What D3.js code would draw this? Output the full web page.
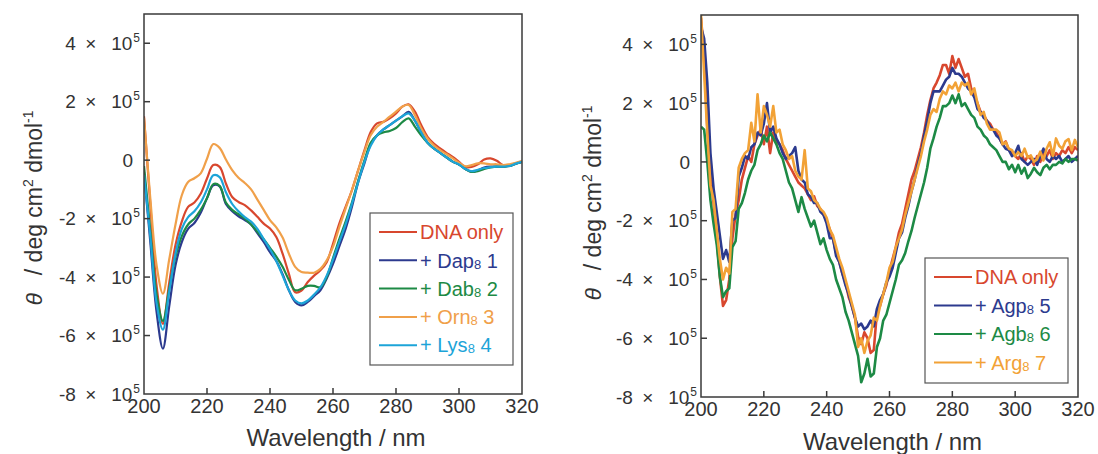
<!DOCTYPE html>
<html>
<head>
<meta charset="utf-8">
<script src="https://cdn.jsdelivr.net/npm/d3@7"></script>
<style>
  body { margin: 0; background: #fff; }
  svg { display: block; font-family: "Liberation Sans", Arial, sans-serif; }
</style>
</head>
<body>
<svg id="chart" width="1098" height="454"></svg>
<script>
// values are theta in units of 10^5 deg cm2 dmol-1

// left panel, 200-320 nm every 2 nm
const waveLeft = d3.range(200, 321, 2);
const leftDNA = [1.5, -1.5, -4.3, -5.6, -4.2, -2.9, -2.1, -1.6, -1.45, -1.15, -0.63, -0.17, -0.23, -0.8, -1.26, -1.43, -1.54, -1.72, -1.94, -2.17, -2.34, -2.63, -3.2, -3.89, -4.52, -4.46, -4.17, -3.95, -3.77, -3.49, -2.86, -2.17, -1.6, -1.03, -0.34, 0.34, 0.97, 1.26, 1.31, 1.43, 1.6, 1.83, 1.91, 1.66, 1.2, 0.8, 0.57, 0.4, 0.25, 0.11, -0.06, -0.23, -0.23, -0.14, 0.02, 0.06, -0.02, -0.17, -0.17, -0.11, -0.06];
const leftDap = [-0.4, -2.8, -5.2, -6.45, -5.0, -3.6, -2.8, -2.35, -2.15, -1.8, -1.3, -0.86, -0.9, -1.5, -1.75, -1.92, -2.05, -2.2, -2.5, -2.8, -3.15, -3.45, -3.9, -4.45, -4.85, -4.97, -4.85, -4.65, -4.45, -4.05, -3.55, -2.95, -2.35, -1.6, -0.75, -0.1, 0.55, 0.85, 1.05, 1.2, 1.35, 1.5, 1.65, 1.35, 0.95, 0.6, 0.4, 0.25, 0.1, -0.05, -0.15, -0.3, -0.4, -0.35, -0.25, -0.22, -0.22, -0.22, -0.2, -0.12, -0.06];
const leftDab = [-0.2, -2.4, -4.6, -5.5, -4.4, -3.3, -2.6, -2.2, -2.0, -1.7, -1.3, -0.82, -0.88, -1.45, -1.7, -1.85, -2.0, -2.2, -2.45, -2.7, -3.0, -3.3, -3.65, -4.1, -4.45, -4.4, -4.3, -4.3, -4.35, -4.0, -3.35, -2.7, -2.1, -1.45, -0.7, 0.0, 0.6, 0.85, 0.95, 1.0, 1.1, 1.3, 1.43, 1.15, 0.85, 0.6, 0.4, 0.25, 0.1, -0.05, -0.15, -0.3, -0.4, -0.38, -0.3, -0.25, -0.22, -0.22, -0.2, -0.12, -0.06];
const leftOrn = [1.45, -1.3, -3.6, -4.57, -3.4, -2.2, -1.2, -0.75, -0.62, -0.45, 0.05, 0.55, 0.42, 0.02, -0.34, -0.6, -0.78, -1.0, -1.35, -1.7, -2.05, -2.3, -2.65, -3.2, -3.65, -3.83, -3.85, -3.85, -3.72, -3.43, -2.97, -2.3, -1.66, -1.03, -0.34, 0.29, 0.86, 1.14, 1.31, 1.49, 1.66, 1.83, 1.89, 1.54, 1.09, 0.74, 0.51, 0.34, 0.21, 0.06, -0.09, -0.21, -0.17, -0.11, -0.11, -0.14, -0.14, -0.17, -0.14, -0.09, -0.02];
const leftLys = [-0.5, -2.6, -4.9, -5.8, -4.5, -3.2, -2.35, -1.95, -1.75, -1.45, -1.0, -0.52, -0.58, -1.1, -1.5, -1.75, -1.95, -2.1, -2.35, -2.7, -3.05, -3.45, -3.95, -4.45, -4.8, -4.9, -4.8, -4.6, -4.35, -3.95, -3.4, -2.8, -2.2, -1.5, -0.75, -0.05, 0.5, 0.85, 1.05, 1.2, 1.35, 1.5, 1.6, 1.35, 0.95, 0.6, 0.4, 0.25, 0.1, -0.05, -0.15, -0.3, -0.38, -0.33, -0.27, -0.24, -0.22, -0.22, -0.2, -0.12, -0.06];

// right panel, 200-320 nm every 1 nm
const waveRight = d3.range(200, 321, 1);
const rightDNA = [4.9, 3.6, 1.2, -0.4, -1.4, -2.6, -3.9, -4.9, -4.7, -4.0,
  -2.6, -1.8, -1.3, -0.6, -0.2, 0.2, 0.0, 0.6, 0.9, 1.1,
  0.6, 1.2, 0.3, 1.0, 0.7, 0.6, 0.4, 0.1, -0.1, -0.3,
  -0.5, -0.7, -0.8, -0.9, -1.1, -1.3, -1.17, -1.5, -1.6, -1.8,
  -2.0, -2.3, -2.6, -3.1, -3.4, -3.8, -4.1, -4.6, -4.9, -5.3,
  -5.95, -6.2, -5.8, -6.0, -6.5, -6.4, -5.1, -4.9, -4.5, -4.2,
  -3.7, -3.3, -2.9, -2.4, -2.1, -1.6, -1.1, -0.6, -0.3, 0.1,
  0.5, 1.0, 1.6, 2.1, 2.5, 2.7, 2.95, 3.3, 3.3, 3.0,
  3.6, 3.2, 3.5, 3.2, 2.9, 3.0, 2.5, 2.3, 2.0, 1.7,
  1.6, 1.4, 1.3, 1.1, 1.0, 0.8, 0.6, 0.7, 0.4, 0.3,
  0.2, 0.1, 0.3, 0.0, 0.2, 0.1, -0.1, 0.2, 0.0, 0.3,
  0.2, 0.4, 0.1, 0.3, 0.2, 0.4, 0.3, 0.5, 0.3, 0.5,
  0.4];
const rightAgp = [4.6, 4.2, 2.7, 0.3, -0.9, -1.7, -2.5, -3.3, -3.0, -3.4,
  -2.0, -1.9, -0.5, -0.2, 0.2, 0.1, 0.5, 0.6, 1.0, 0.9,
  1.3, 2.0, 1.0, 1.2, 0.8, 0.6, 0.3, 0.1, 0.2, 0.3,
  0.5, -0.3, -0.6, -0.7, -1.1, -1.2, -1.4, -1.4, -1.7, -1.8,
  -2.1, -2.6, -2.6, -3.2, -3.4, -3.8, -4.2, -4.5, -4.9, -5.3,
  -5.6, -5.5, -5.7, -5.6, -5.4, -5.6, -5.0, -4.7, -4.5, -4.1,
  -3.9, -3.6, -3.1, -2.6, -2.4, -1.9, -1.5, -1.0, -0.6, -0.1,
  0.3, 0.9, 1.4, 2.0, 2.4, 2.4, 2.4, 2.6, 2.8, 2.9,
  3.2, 3.0, 3.0, 2.9, 2.7, 2.5, 2.4, 2.2, 1.8, 1.7,
  1.5, 1.4, 1.2, 1.1, 0.9, 0.8, 0.6, 0.45, 0.4, 0.2,
  0.3, 0.55, 0.1, 0.0, -0.1, 0.0, 0.1, -0.1, 0.2, 0.45,
  0.1, 0.0, 0.2, 0.1, 0.2, 0.0, 0.1, 0.2, 0.0, 0.1,
  0.2];
const rightAgb = [1.2, 1.1, 0.0, -1.3, -2.1, -2.8, -3.9, -4.6, -4.4, -4.3,
  -2.9, -2.7, -1.6, -1.4, -1.05, -0.6, -0.3, -0.1, 0.4, 0.6,
  0.9, 0.7, 1.0, 0.8, 0.6, 0.3, 0.1, -0.3, -0.7, -0.9,
  -1.3, -1.7, -1.2, -1.6, -1.9, -2.2, -2.0, -2.4, -2.8, -2.6,
  -3.0, -3.3, -3.5, -4.0, -4.3, -4.6, -5.1, -5.4, -5.8, -6.2,
  -6.6, -7.5, -7.2, -6.7, -7.3, -7.2, -6.3, -6.0, -5.4, -5.2,
  -4.8, -4.4, -4.0, -3.5, -3.35, -3.1, -2.7, -2.35, -1.9, -1.5,
  -1.1, -0.7, -0.2, 0.45, 0.8, 1.2, 1.5, 1.9, 1.9, 2.0,
  2.26, 2.0, 2.3, 1.9, 2.0, 1.8, 1.6, 1.5, 1.2, 1.1,
  0.9, 0.8, 0.6, 0.5, 0.4, 0.2, 0.0, 0.0, -0.25, -0.1,
  -0.35, -0.1, -0.4, -0.2, -0.55, -0.4, -0.2, -0.35, -0.45, -0.2,
  -0.1, -0.25, -0.1, -0.1, 0.0, -0.05, 0.1, 0.0, 0.1, 0.1,
  0.05];
const rightArg = [5.0, 3.0, 1.0, -0.8, -1.3, -2.3, -3.3, -4.0, -3.6, -3.8,
  -1.7, -1.6, -0.2, 0.1, 0.3, 0.4, 1.33, 0.7, 2.3, 1.0,
  1.9, 1.6, 1.2, 1.9, 1.0, 1.1, 0.6, 0.4, 0.1, 0.2,
  -0.3, -0.5, -0.6, 0.4, -0.9, -1.0, -1.3, -1.4, -1.6, -1.7,
  -1.9, -2.3, -2.5, -2.9, -3.3, -3.6, -4.0, -4.4, -4.8, -5.2,
  -6.3, -6.0, -6.5, -6.1, -5.9, -5.3, -5.4, -4.9, -4.5, -4.1,
  -3.6, -3.4, -2.9, -2.6, -2.3, -1.8, -1.4, -1.0, -0.6, -0.2,
  0.2, 0.7, 1.1, 1.6, 1.8, 1.7, 2.15, 2.4, 2.3, 2.6,
  2.5, 2.7, 2.4, 2.7, 2.6, 2.7, 2.3, 2.5, 2.0, 1.6,
  1.7, 1.3, 1.1, 1.1, 1.1, 1.0, 0.6, 0.67, 0.45, 0.4,
  0.2, 0.33, 0.2, 0.45, 0.15, 0.22, 0.0, 0.1, 0.35, 0.05,
  0.45, 0.67, 0.2, 0.8, 0.55, 0.45, 0.7, 0.78, 0.4, 0.75,
  0.5];

const xTicks = [200, 220, 240, 260, 280, 300, 320];
const yTicks = [4, 2, 0, -2, -4, -6, -8];

const leftSeries = [
  { name: "DNA only", sub: null, values: leftDNA, color: "#d8472e" },
  { name: "+ Dap", sub: "1", values: leftDap, color: "#2c3a8e" },
  { name: "+ Dab", sub: "2", values: leftDab, color: "#1d8a45" },
  { name: "+ Orn", sub: "3", values: leftOrn, color: "#f0a04a" },
  { name: "+ Lys", sub: "4", values: leftLys, color: "#1ca4d8" }
];
const rightSeries = [
  { name: "DNA only", sub: null, values: rightDNA, color: "#d8472e" },
  { name: "+ Agp", sub: "5", values: rightAgp, color: "#2c3a8e" },
  { name: "+ Agb", sub: "6", values: rightAgb, color: "#1d8a45" },
  { name: "+ Arg", sub: "7", values: rightArg, color: "#f2a236" }
];

const svg = d3.select("#chart");
const axisColor = "#3a3a3a";
const textColor = "#333";

function drawPanel(p) {
  const x = d3.scaleLinear().domain([200, 320]).range([p.x0, p.x1]);
  const y = d3.scaleLinear().domain([-8, 5]).range([p.y1, p.y0]);
  const g = svg.append("g");

  // clip so the lines stay in the frame
  g.append("clipPath").attr("id", p.id)
    .append("rect").attr("x", p.x0).attr("y", p.y0)
    .attr("width", p.x1 - p.x0).attr("height", p.y1 - p.y0);

  const line = d3.line()
    .x((d, i) => x(p.waves[i]))
    .y(d => y(d))
    .curve(p.curve);

  g.append("g").attr("clip-path", `url(#${p.id})`)
    .selectAll("path")
    .data(p.series)
    .enter()
    .append("path")
    .attr("d", d => line(d.values))
    .attr("fill", "none")
    .attr("stroke", d => d.color)
    .attr("stroke-width", p.lineWidth)
    .attr("stroke-linejoin", "round");

  // frame
  g.append("rect")
    .attr("x", p.x0).attr("y", p.y0)
    .attr("width", p.x1 - p.x0).attr("height", p.y1 - p.y0)
    .attr("fill", "none").attr("stroke", axisColor).attr("stroke-width", 1.5);

  // inward ticks
  g.selectAll(".xt").data(xTicks.slice(1, -1)).enter().append("line")
    .attr("x1", d => x(d)).attr("x2", d => x(d))
    .attr("y1", p.y1).attr("y2", p.y1 - 6)
    .attr("stroke", axisColor).attr("stroke-width", 1.5);
  g.selectAll(".yt").data(yTicks.slice(0, -1)).enter().append("line")
    .attr("x1", p.x0).attr("x2", p.x0 + 6)
    .attr("y1", d => y(d)).attr("y2", d => y(d))
    .attr("stroke", axisColor).attr("stroke-width", 1.5);

  // x tick labels
  g.selectAll(".xl").data(xTicks).enter().append("text")
    .attr("x", d => x(d)).attr("y", p.y1 + 19)
    .attr("text-anchor", "middle")
    .attr("font-size", 20).attr("fill", textColor)
    .text(d => d);

  // y tick labels like "4 × 10^5"
  yTicks.forEach(v => {
    const t = g.append("text")
      .attr("y", y(v)).attr("dy", "0.35em")
      .attr("text-anchor", "end")
      .attr("font-size", 19).attr("fill", textColor);
    if (v === 0) {
      t.attr("x", p.x0 - 11).text("0");
    } else {
      t.attr("x", p.x0 - 4);
      t.append("tspan").text(`${v}\u2002×\u2002 10`);
      t.append("tspan").attr("font-size", 12).attr("dx", 1).attr("dy", -8).text("5");
    }
  });

  // x title
  g.append("text")
    .attr("x", (p.x0 + p.x1) / 2 + 3).attr("y", p.xTitleY)
    .attr("text-anchor", "middle")
    .attr("font-size", 24).attr("fill", textColor)
    .text("Wavelength / nm");

  // y title
  const yt = g.append("text")
    .attr("transform", `translate(${p.yTitleX},${p.yTitleCY}) rotate(-90)`)
    .attr("text-anchor", "middle")
    .attr("font-size", 23).attr("fill", textColor);
  yt.append("tspan").attr("font-style", "italic").text("θ");
  yt.append("tspan").text("\u2002 / deg cm");
  yt.append("tspan").attr("font-size", 14).attr("dy", -9).text("2");
  yt.append("tspan").attr("dy", 9).text(" dmol");
  yt.append("tspan").attr("font-size", 14).attr("dy", -9).text("-1");

  // legend
  const lg = g.append("g");
  lg.append("rect")
    .attr("x", p.legend.x).attr("y", p.legend.y)
    .attr("width", 143).attr("height", p.legend.h)
    .attr("fill", "#fff").attr("stroke", "#555").attr("stroke-width", 1.2);
  p.series.forEach((s, i) => {
    const ly = p.legend.y + 19 + i * p.legend.step;
    lg.append("line")
      .attr("x1", p.legend.x + 9).attr("x2", p.legend.x + 47)
      .attr("y1", ly).attr("y2", ly)
      .attr("stroke", s.color).attr("stroke-width", 2);
    const t = lg.append("text")
      .attr("x", p.legend.x + 50).attr("y", ly).attr("dy", "0.36em")
      .attr("font-size", 20).attr("fill", s.color);
    t.append("tspan").text(s.name);
    if (s.sub) {
      t.append("tspan").attr("font-size", 13).attr("dy", 1).text("8");
      t.append("tspan").attr("dy", -1).text(" " + s.sub);
    }
  });
}

drawPanel({
  id: "clipL", x0: 144, x1: 522, y0: 14, y1: 394,
  waves: waveLeft, series: leftSeries, curve: d3.curveCatmullRom, lineWidth: 2.2,
  xTitleY: 446, yTitleX: 42, yTitleCY: 208,
  legend: { x: 370, y: 213, h: 152, step: 28.3 }
});

drawPanel({
  id: "clipR", x0: 701, x1: 1078, y0: 15, y1: 397,
  waves: waveRight, series: rightSeries, curve: d3.curveLinear, lineWidth: 2.6,
  xTitleY: 450, yTitleX: 601, yTitleCY: 203,
  legend: { x: 925, y: 258, h: 125, step: 28.5 }
});
</script>
</body>
</html>
